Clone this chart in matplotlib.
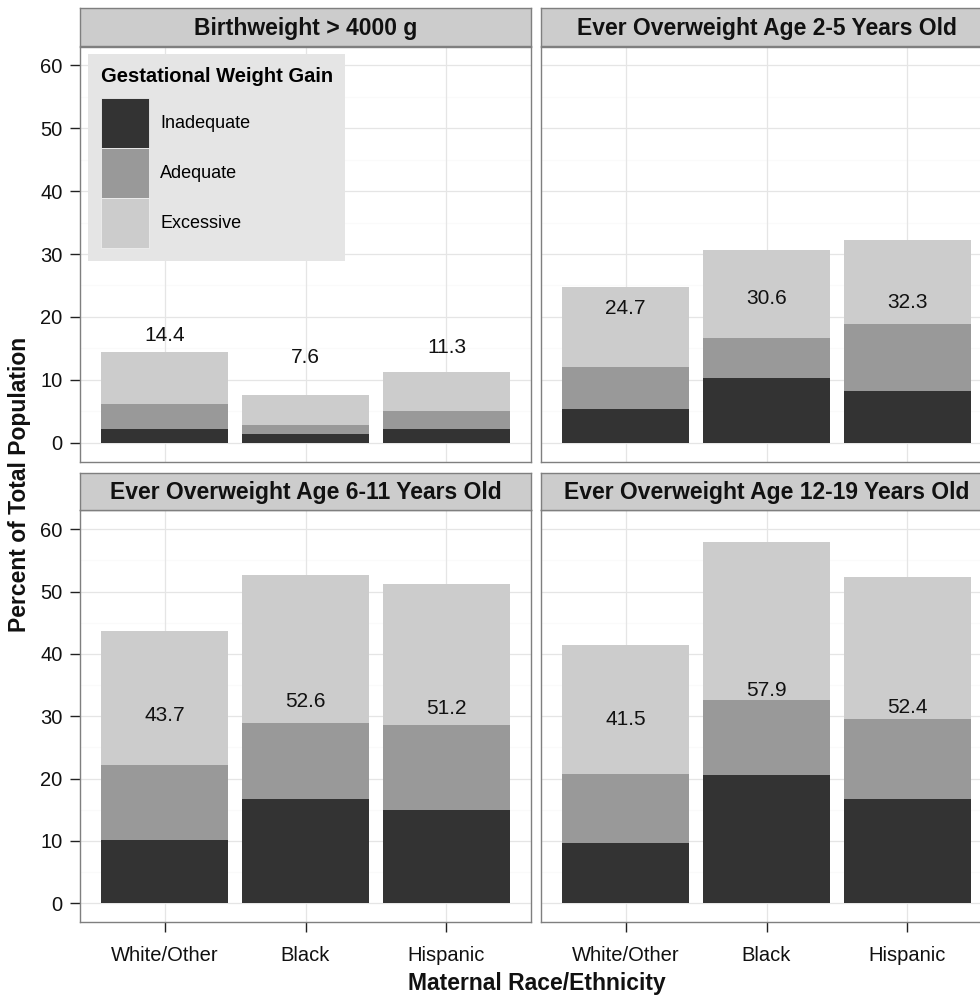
import matplotlib
matplotlib.use("Agg")
import matplotlib.pyplot as plt
from matplotlib.patches import Patch

plt.rcParams["font.family"] = ["Liberation Sans", "DejaVu Sans"]

# data
races = ["White/Other", "Black", "Hispanic"]
panel_titles = [
    "Birthweight > 4000 g",
    "Ever Overweight Age 2-5 Years Old",
    "Ever Overweight Age 6-11 Years Old",
    "Ever Overweight Age 12-19 Years Old",
]
gain_levels = ["Inadequate", "Adequate", "Excessive"]
gain_colors = ["#333333", "#999999", "#CCCCCC"]

# segment heights, one list per panel (White/Other, Black, Hispanic)
inadequate = [[2.2, 1.3, 2.2], [5.4, 10.3, 8.2], [10.2, 16.7, 14.9], [9.6, 20.5, 16.7]]
adequate = [[4.0, 1.5, 2.9], [6.7, 6.3, 10.6], [12.0, 12.2, 13.7], [11.1, 12.1, 12.9]]
excessive = [[8.2, 4.8, 6.2], [12.6, 14.0, 13.5], [21.5, 23.7, 22.6], [20.8, 25.3, 22.8]]

# printed totals and where the labels sit on the y scale
totals = [[14.4, 7.6, 11.3], [24.7, 30.6, 32.3], [43.7, 52.6, 51.2], [41.5, 57.9, 52.4]]
label_y = [[17.0, 13.6, 15.1], [21.3, 22.9, 22.3], [30.1, 32.4, 31.2], [29.5, 34.1, 31.4]]

y_ticks = [0, 10, 20, 30, 40, 50, 60]
y_minor = [5, 15, 25, 35, 45, 55]

W, H = 980, 997
fig = plt.figure(figsize=(W / 100, H / 100), dpi=100)
fig.patch.set_facecolor("white")

# panel boxes in pixels: (left, top, right, bottom), strip height
panel_px = [
    (80, 46.5, 531, 461.5),
    (541, 46.5, 992, 461.5),
    (80, 510.5, 531, 922),
    (541, 510.5, 992, 922),
]
strip_h = 38


def px_box(l, t, r, b):
    return [l / W, 1 - b / H, (r - l) / W, (b - t) / H]


x = [1, 2, 3]
for i, (l, t, r, b) in enumerate(panel_px):
    ax = fig.add_axes(px_box(l, t, r, b))
    ax.set_facecolor("white")
    ax.set_xlim(0.4, 3.6)
    ax.set_ylim(-3, 63)

    # grid
    for v in y_minor:
        ax.axhline(v, color="#FAFAFA", lw=0.8, zorder=0)
    for v in y_ticks:
        ax.axhline(v, color="#E5E5E5", lw=0.9, zorder=0)
    for v in x:
        ax.axvline(v, color="#E5E5E5", lw=0.9, zorder=0)

    bottom = [0, 0, 0]
    for seg, col in zip([inadequate[i], adequate[i], excessive[i]], gain_colors):
        ax.bar(x, seg, width=0.9, bottom=bottom, color=col, edgecolor="none", zorder=2)
        bottom = [bt + s for bt, s in zip(bottom, seg)]

    for xi, tot, yl in zip(x, totals[i], label_y[i]):
        ax.text(xi, yl, f"{tot:.1f}", ha="center", va="center", fontsize=15,
                color="#111111", zorder=3)

    for s in ax.spines.values():
        s.set_color("#7F7F7F")
        s.set_linewidth(1.0)

    ax.set_yticks(y_ticks)
    ax.set_xticks(x)
    ax.tick_params(axis="both", length=7.5, width=1.0, color="#222222",
                   labelsize=14.5, labelcolor="#111111", pad=5)
    if i % 2 == 0:
        ax.set_yticklabels([str(v) for v in y_ticks])
    else:
        ax.tick_params(axis="y", left=False, labelleft=False)
    if i >= 2:
        ax.set_xticklabels(races)
        ax.tick_params(axis="x", pad=10)
    else:
        ax.tick_params(axis="x", bottom=False, labelbottom=False)

    # facet strip
    sax = fig.add_axes(px_box(l, t - strip_h, r, t))
    sax.set_facecolor("#CCCCCC")
    sax.set_xticks([])
    sax.set_yticks([])
    for s in sax.spines.values():
        s.set_color("#7F7F7F")
        s.set_linewidth(1.0)
    sax.text(0.5, 0.47, panel_titles[i], ha="center", va="center",
             fontsize=16.5, fontweight="bold", color="#111111",
             transform=sax.transAxes)

    if i == 0:
        handles = [Patch(facecolor=c, edgecolor="#EEEEEE", linewidth=0.6)
                   for c in gain_colors]
        leg = ax.legend(handles, gain_levels, title="Gestational Weight Gain",
                        loc="upper left", bbox_to_anchor=(88 / W, 1 - 54 / H),
                        bbox_transform=fig.transFigure,
                        fontsize=13, title_fontproperties={"weight": "bold", "size": 14.5},
                        handlelength=2.7, handleheight=3.88, labelspacing=0,
                        handletextpad=0.6, borderpad=0.7, borderaxespad=0,
                        frameon=True, fancybox=False, alignment="left")
        leg._legend_box.sep = 9
        leg.get_frame().set_facecolor("#E5E5E5")
        leg.get_frame().set_edgecolor("none")
        leg.get_frame().set_alpha(1)
        leg.set_zorder(5)

fig.text(20 / W, 1 - 484 / H, "Percent of Total Population", rotation=90,
         ha="center", va="center", fontsize=16.5, fontweight="bold", color="#111111")
fig.text(537 / W, 1 - 983 / H, "Maternal Race/Ethnicity",
         ha="center", va="center", fontsize=16.5, fontweight="bold", color="#111111")

fig.savefig("out.png", dpi=100)
